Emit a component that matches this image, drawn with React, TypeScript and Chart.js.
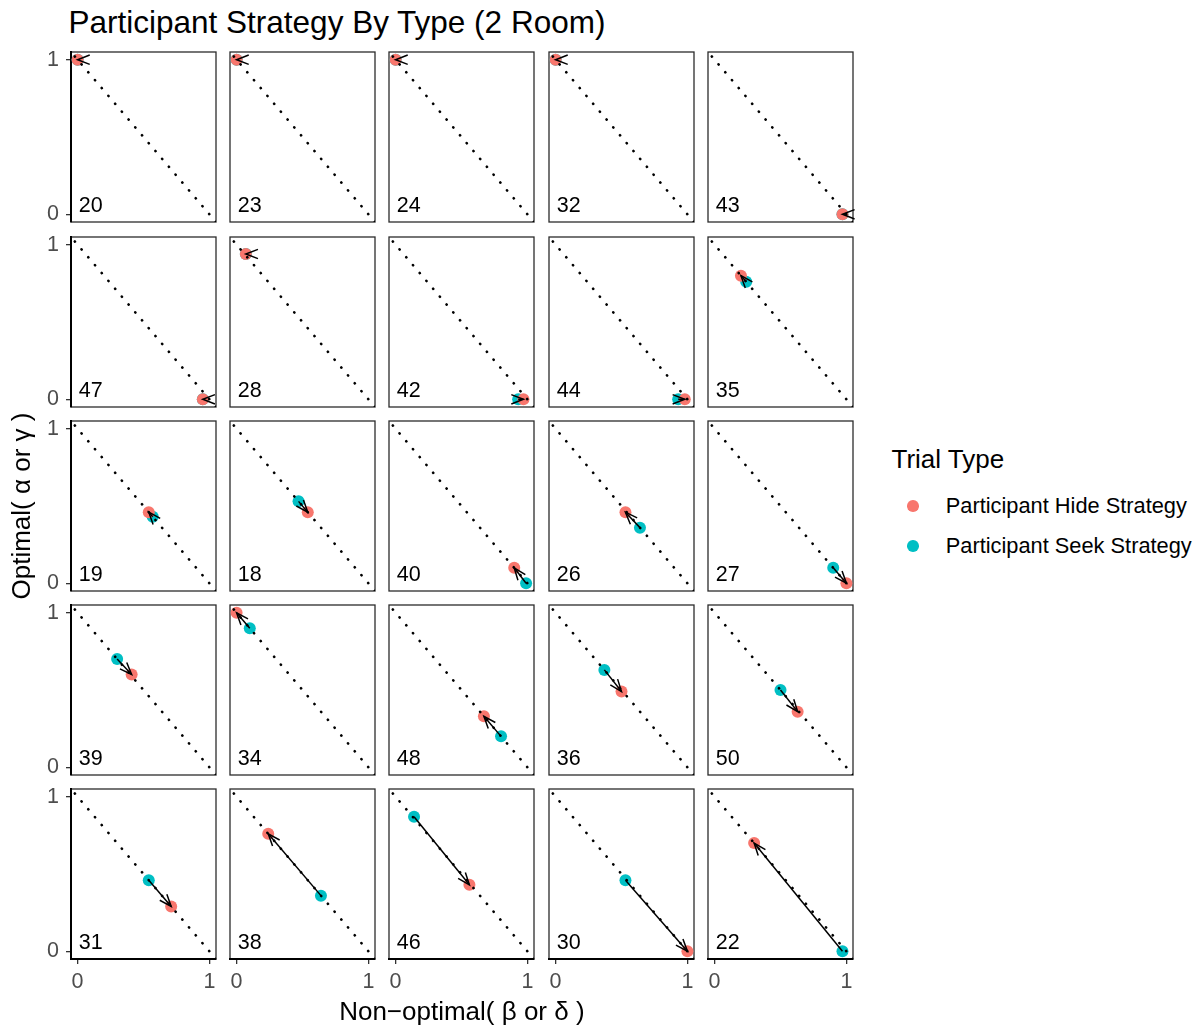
import React, { useEffect, useRef } from 'react';
import { Chart, registerables } from 'chart.js';

Chart.register(...registerables);

// ---------------- data ----------------
const participants = ['20', '23', '24', '32', '43', '47', '28', '42', '44', '35', '19', '18', '40', '26', '27', '39', '34', '48', '36', '50', '31', '38', '46', '30', '22'];
// Participant Hide Strategy: x = non-optimal (beta or delta), y = optimal (alpha or gamma)
const hideX = [0, 0, 0, 0, 0.97, 0.95, 0.07, 0.97, 0.98, 0.2, 0.54, 0.54, 0.9, 0.53, 1.0, 0.41, 0, 0.67, 0.5, 0.63, 0.71, 0.24, 0.56, 1.0, 0.3];
const hideY = [1, 1, 1, 1, 0, 0, 0.94, 0, 0, 0.8, 0.46, 0.46, 0.1, 0.46, 0, 0.6, 1, 0.33, 0.49, 0.36, 0.29, 0.76, 0.43, 0, 0.7];
// Participant Seek Strategy
const seekX = [0, 0, 0, 0, 0.97, 0.95, 0.07, 0.93, 0.93, 0.24, 0.57, 0.47, 0.99, 0.64, 0.9, 0.3, 0.1, 0.8, 0.37, 0.5, 0.54, 0.64, 0.14, 0.53, 0.97];
const seekY = [1, 1, 1, 1, 0, 0, 0.94, 0, 0, 0.76, 0.43, 0.53, 0, 0.36, 0.1, 0.7, 0.9, 0.2, 0.63, 0.5, 0.46, 0.36, 0.87, 0.46, 0];
const axisTicks = [0, 1];
const axisMin = -0.05;
const axisMax = 1.05;
// reference line y = 1 - x across the full panel
const diagonalX = [1.05, -0.05];
const diagonalY = [-0.05, 1.05];
// facet label position (data units)
const labelX = 0.1;
const labelY = 0.05;

// ---------------- style ----------------
const HIDE_COLOR = '#F8766D';
const SEEK_COLOR = '#00BFC4';
const FONT = "'Liberation Sans', Arial, Helvetica, sans-serif";
const NCOL = 5;
const NROW = 5;
const PANEL_LEFT0 = 71;
const PANEL_TOP0 = 52.3;
const STEP_X = 159.2;
const STEP_Y = 184.25;
const PANEL_W = 145;
const PANEL_H = 170;
const Y_AXIS_W = 60;
const X_AXIS_H = 45;
const PAD = 6;
const POINT_R = 6;

Chart.defaults.font.family = FONT;

const panelPlugin = {
  id: 'panelDecor',
  beforeDraw(chart: any) {
    const { ctx, chartArea: a } = chart;
    ctx.save();
    ctx.strokeStyle = '#2b2b2b';
    ctx.lineWidth = 1.3;
    ctx.strokeRect(a.left, a.top, a.right - a.left, a.bottom - a.top);
    ctx.restore();
  },
  afterDatasetsDraw(chart: any, _args: any, opts: any) {
    const { ctx } = chart;
    const h = chart.getDatasetMeta(2).data[0];
    const s = chart.getDatasetMeta(3).data[0];
    if (h && s) {
      const ang = Math.atan2(s.y - h.y, s.x - h.x);
      const len = 13;
      const half = (21 * Math.PI) / 180;
      ctx.save();
      ctx.strokeStyle = '#000000';
      ctx.lineWidth = 1.5;
      ctx.lineCap = 'butt';
      ctx.beginPath();
      ctx.moveTo(h.x + len * Math.cos(ang + half), h.y + len * Math.sin(ang + half));
      ctx.lineTo(h.x, h.y);
      ctx.lineTo(h.x + len * Math.cos(ang - half), h.y + len * Math.sin(ang - half));
      ctx.stroke();
      ctx.restore();
    }
    const xs = chart.scales.x;
    const ys = chart.scales.y;
    ctx.save();
    ctx.fillStyle = '#000000';
    ctx.font = `21.5px ${FONT}`;
    ctx.textAlign = 'center';
    ctx.textBaseline = 'middle';
    ctx.fillText(opts.label, xs.getPixelForValue(labelX), ys.getPixelForValue(labelY));
    ctx.restore();
  },
};

function axisOptions(show: boolean, horizontal: boolean) {
  return {
    type: 'linear',
    min: axisMin,
    max: axisMax,
    display: show,
    afterBuildTicks: (s: any) => {
      s.ticks = axisTicks.map((v) => ({ value: v }));
    },
    afterFit: (s: any) => {
      if (!show) return;
      if (horizontal) s.height = X_AXIS_H;
      else s.width = Y_AXIS_W;
      s.paddingTop = 0;
      s.paddingBottom = 0;
      s.paddingLeft = 0;
      s.paddingRight = 0;
    },
    grid: { display: true, drawOnChartArea: false, drawTicks: true, tickLength: 5, color: '#333333', lineWidth: 1.3 },
    border: { display: true, color: '#000000', width: 2 },
    ticks: {
      autoSkip: false,
      maxRotation: 0,
      minRotation: 0,
      padding: horizontal ? 5 : 7,
      color: '#4D4D4D',
      font: { family: FONT, size: 21.5 },
      callback: (v: any) => String(v),
    },
  };
}

function panelBox(i: number) {
  const col = i % NCOL;
  const row = Math.floor(i / NCOL);
  const isLeft = col === 0;
  const isBottom = row === NROW - 1;
  const panelLeft = Math.round(PANEL_LEFT0 + col * STEP_X);
  const panelTop = Math.round(PANEL_TOP0 + row * STEP_Y);
  const padL = isLeft ? Y_AXIS_W : PAD;
  const padB = isBottom ? X_AXIS_H : PAD;
  return {
    col, row, isLeft, isBottom,
    left: panelLeft - padL,
    top: panelTop - PAD,
    width: PANEL_W + padL + PAD,
    height: PANEL_H + PAD + padB,
  };
}

export default function App() {
  const refs = useRef<(HTMLCanvasElement | null)[]>([]);

  useEffect(() => {
    const charts = participants.map((id, i) => {
      const canvas = refs.current[i];
      if (!canvas) return null;
      const b = panelBox(i);
      const config: any = {
        type: 'scatter',
        data: {
          datasets: [
            {
              label: 'arrow',
              data: [
                { x: seekX[i], y: seekY[i] },
                { x: hideX[i], y: hideY[i] },
              ],
              showLine: true,
              borderColor: '#000000',
              borderWidth: 1.5,
              pointRadius: 0,
              order: 0,
            },
            {
              label: 'diagonal',
              data: diagonalX.map((x, k) => ({ x, y: diagonalY[k] })),
              showLine: true,
              borderColor: '#000000',
              borderWidth: 2.6,
              borderDash: [0.2, 10.15],
              borderCapStyle: 'round',
              pointRadius: 0,
              order: 1,
            },
            {
              label: 'Participant Hide Strategy',
              data: [{ x: hideX[i], y: hideY[i] }],
              backgroundColor: HIDE_COLOR,
              pointBackgroundColor: HIDE_COLOR,
              pointBorderWidth: 0,
              borderWidth: 0,
              pointRadius: POINT_R,
              order: 2,
            },
            {
              label: 'Participant Seek Strategy',
              data: [{ x: seekX[i], y: seekY[i] }],
              backgroundColor: SEEK_COLOR,
              pointBackgroundColor: SEEK_COLOR,
              pointBorderWidth: 0,
              borderWidth: 0,
              pointRadius: POINT_R,
              order: 3,
            },
          ],
        },
        options: {
          responsive: false,
          maintainAspectRatio: false,
          animation: false,
          events: [],
          devicePixelRatio: 1,
          layout: {
            padding: { left: b.isLeft ? 0 : PAD, right: PAD, top: PAD, bottom: b.isBottom ? 0 : PAD },
          },
          scales: {
            x: axisOptions(b.isBottom, true),
            y: axisOptions(b.isLeft, false),
          },
          plugins: {
            legend: { display: false },
            tooltip: { enabled: false },
            title: { display: false },
            panelDecor: { label: id },
          },
        },
        plugins: [panelPlugin],
      };
      return new Chart(canvas, config);
    });
    return () => {
      charts.forEach((c) => c && c.destroy());
    };
  }, []);

  const textBase: React.CSSProperties = {
    position: 'absolute',
    whiteSpace: 'nowrap',
    fontFamily: FONT,
    color: '#000000',
  };

  return (
    <div
      style={{
        position: 'absolute',
        left: 0,
        top: 0,
        width: 1203,
        height: 1030,
        background: '#ffffff',
        overflow: 'hidden',
        fontFamily: FONT,
      }}
    >
      {participants.map((id, i) => {
        const b = panelBox(i);
        return (
          <canvas
            key={id}
            ref={(el) => {
              refs.current[i] = el;
            }}
            width={b.width}
            height={b.height}
            style={{ position: 'absolute', left: b.left, top: b.top, width: b.width, height: b.height }}
          />
        );
      })}

      <div style={{ ...textBase, left: 68.5, top: 6.5, fontSize: 31.5, lineHeight: '31.5px' }}>
        Participant Strategy By Type (2 Room)
      </div>

      <div
        style={{
          ...textBase,
          left: 461.9 - 200,
          top: 998,
          width: 400,
          textAlign: 'center',
          fontSize: 26,
          lineHeight: '26px',
        }}
      >
        Non−optimal( β or δ )
      </div>

      <div
        style={{
          ...textBase,
          left: 21 - 200,
          top: 505.6 - 13,
          width: 400,
          height: 26,
          textAlign: 'center',
          fontSize: 26,
          lineHeight: '26px',
          transform: 'rotate(-90deg)',
          transformOrigin: '50% 50%',
        }}
      >
        Optimal( α or γ )
      </div>

      <div style={{ ...textBase, left: 891.5, top: 446, fontSize: 26, lineHeight: '26px' }}>Trial Type</div>

      <div
        style={{
          position: 'absolute',
          left: 913 - 5.8,
          top: 506 - 5.8,
          width: 11.6,
          height: 11.6,
          borderRadius: '50%',
          background: HIDE_COLOR,
        }}
      />
      <div style={{ ...textBase, left: 945.8, top: 495.3, fontSize: 21.8, lineHeight: '21.8px' }}>
        Participant Hide Strategy
      </div>
      <div
        style={{
          position: 'absolute',
          left: 913 - 5.8,
          top: 546 - 5.8,
          width: 11.6,
          height: 11.6,
          borderRadius: '50%',
          background: SEEK_COLOR,
        }}
      />
      <div style={{ ...textBase, left: 945.8, top: 535.3, fontSize: 21.8, lineHeight: '21.8px' }}>
        Participant Seek Strategy
      </div>
    </div>
  );
}
